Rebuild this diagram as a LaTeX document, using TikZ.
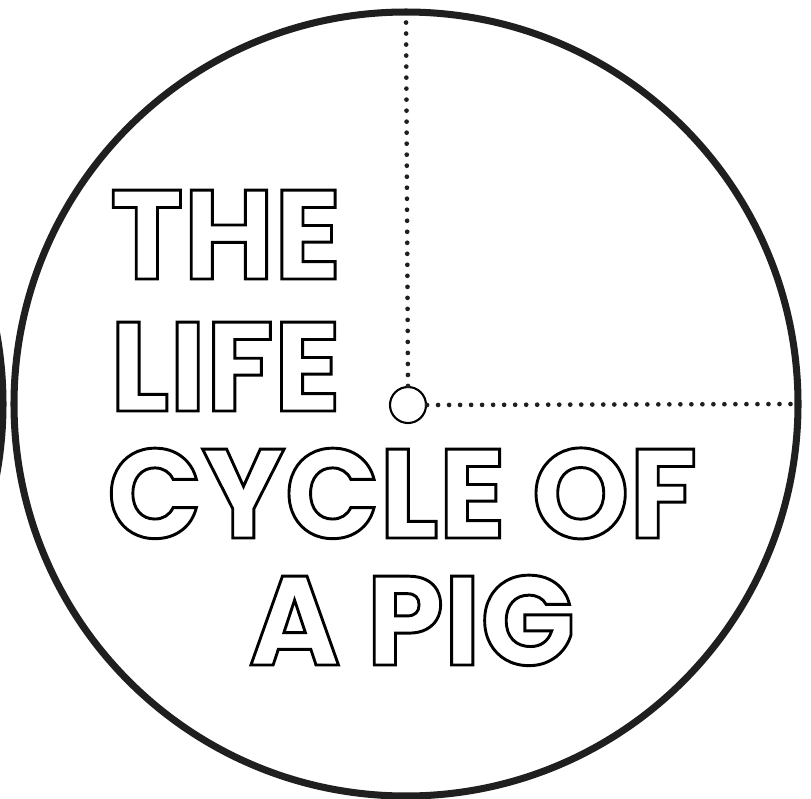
\documentclass[tikz,border=0pt]{standalone}
\usepackage{fontspec}
\setmainfont{Poppins}
\tikzset{
  rim/.style={draw=black!88, line width=6pt},
  hubring/.style={draw=black, line width=1.8pt, fill=white, circle, minimum size=1.08cm, inner sep=0pt},
  dotline/.style={black!88, line width=4pt, line cap=round, dash pattern=on 0pt off 9.4pt},
  title/.style={inner sep=0pt, font=\fontsize{108}{108}\selectfont\bfseries}
}
% stroked letters, no fill
\newcommand{\hollow}[1]{\scalebox{0.98}[1]{\special{pdf:literal direct 1 Tr 2.5 w}#1\special{pdf:literal direct 0 Tr}}}
\begin{document}
\begin{tikzpicture}[x=0.03cm, y=-0.03cm]
\useasboundingbox (0,0) rectangle (811,798);
\clip (0,0) rectangle (811,798);
% neighbouring dial, only its edge shows
\draw[rim] (-389,404) circle (392);
% main dial
\draw[rim] (406,404) circle (392);
\coordinate (top) at (406,14);
\coordinate (right) at (797,404);
\node[hubring] (hub) at (408,405) {};
\draw[dotline] (hub.north) -- (top);
\draw[dotline] (hub.east) -- (right);
% title
\node[title, anchor=base west] (the) at (110,279) {\hollow{THE}};
\node[title, anchor=base west] (life) at (110,411) {\hollow{LIFE}};
\node[title, anchor=base west] (cycle) at (107,538) {\hollow{CYCLE OF}};
\node[title, anchor=base] (pig) at (412,665) {\hollow{A PIG}};
\end{tikzpicture}
\end{document}
